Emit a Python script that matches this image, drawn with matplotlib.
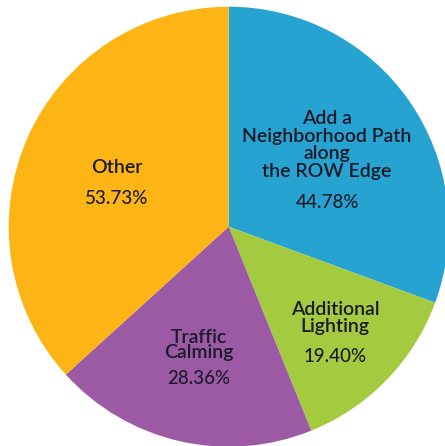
import matplotlib.pyplot as plt

# values shown on the chart (they are not normalised shares)
labels = ["Add a\nNeighborhood Path\nalong\nthe ROW Edge", "Additional\nLighting",
          "Traffic\nCalming", "Other"]
values = [44.78, 19.40, 28.36, 53.73]
colors = ["#27A3D1", "#A4CA3F", "#9C5AA5", "#FDB515"]

# where each label sits inside the pie (pie units)
name_pos = [(0.447, 0.371), (0.483, -0.415), (-0.135, -0.537), (-0.508, 0.267)]
pct_pos = [(0.447, 0.108), (0.483, -0.592), (-0.135, -0.688), (-0.508, 0.130)]
spacing = [1.05, 1.05, 0.85, 1.0]

fig = plt.figure(figsize=(4.45, 4.46), dpi=100)
ax = fig.add_axes([8.7 / 445, -0.7 / 446, 440 / 445, 440 / 446])
ax.pie(values, colors=colors, startangle=90, counterclock=False, radius=1,
       wedgeprops={"linewidth": 0})
ax.set_xlim(-1, 1)
ax.set_ylim(-1, 1)
ax.set_aspect("equal")
ax.axis("off")

txt = "#1b1a2a"
for i in range(len(values)):
    ax.text(name_pos[i][0], name_pos[i][1], labels[i], ha="center", va="center",
            fontsize=14, family="Lato", weight="semibold", color=txt,
            linespacing=spacing[i])
    ax.text(pct_pos[i][0], pct_pos[i][1], "%.2f%%" % values[i], ha="center", va="center",
            fontsize=13.5, family="Lato", weight="medium", color=txt)

plt.savefig("out.png", dpi=100)
print('Finished')
